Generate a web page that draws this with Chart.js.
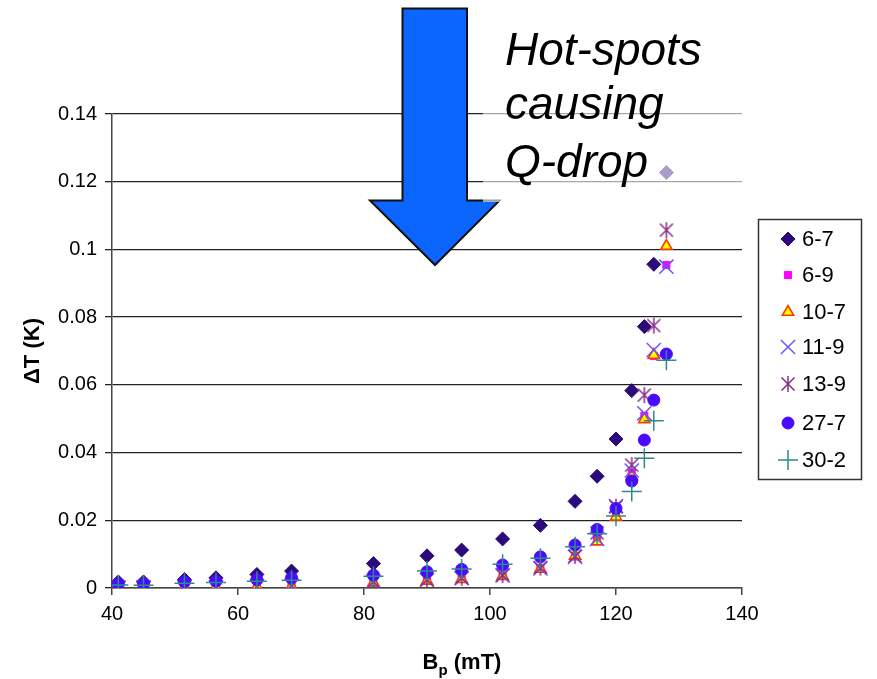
<!DOCTYPE html>
<html>
<head>
<meta charset="utf-8">
<script src="https://cdn.jsdelivr.net/npm/chart.js@4.4.1/dist/chart.umd.min.js"></script>
<style>
html,body{margin:0;padding:0;background:#fff;}
#wrap{width:877px;height:679px;position:relative;}
</style>
</head>
<body>
<div id="wrap"><canvas id="c" width="877" height="679"></canvas></div>
<script>
// ---- data ----
const bField = [41, 45, 51.5, 56.5, 63, 68.5, 81.5, 90, 95.5, 102, 108, 113.5, 117, 120, 122.5, 124.5, 126, 128];
const seriesNames = ['6-7', '6-9', '10-7', '11-9', '13-9', '27-7', '30-2'];
const s6_7  = [0.0018,0.0018,0.0025,0.0030,0.0040,0.0050,0.0072,0.0095,0.0112,0.0145,0.0185,0.0256,0.0330,0.0440,0.0583,0.0772,0.0956,0.1227];
const s6_9  = [0.0002,0.0002,0.0002,0.0003,0.0004,0.0006,0.0017,0.0022,0.0027,0.0036,0.0057,0.0093,0.0145,0.0220,0.0340,0.0508,0.0685,0.0954];
const s10_7 = [0.0001,0.0001,0.0002,0.0003,0.0004,0.0005,0.0016,0.0021,0.0026,0.0035,0.0056,0.0095,0.0137,0.0210,0.0330,0.0498,0.0688,0.1010];
const s11_9 = [0.0002,0.0002,0.0003,0.0003,0.0005,0.0007,0.0019,0.0024,0.0029,0.0037,0.0058,0.0092,0.0145,0.0242,0.0347,0.0516,0.0703,0.0949];
const s13_9 = [0.0002,0.0002,0.0003,0.0003,0.0005,0.0007,0.0019,0.0024,0.0030,0.0038,0.0060,0.0095,0.0163,0.0240,0.0363,0.0570,0.0775,0.1057];
const s27_7 = [0.0012,0.0012,0.0018,0.0020,0.0025,0.0030,0.0038,0.0048,0.0055,0.0068,0.0092,0.0127,0.0173,0.0235,0.0316,0.0437,0.0555,0.0691];
const s30_2 = [0.0009,0.0008,0.0014,0.0016,0.0020,0.0023,0.0035,0.0050,0.0056,0.0070,0.0088,0.0122,0.0160,0.0213,0.0285,0.0383,0.0494,0.0673];
const yTickLabels = ['0', '0.02', '0.04', '0.06', '0.08', '0.1', '0.12', '0.14'];
const xTickLabels = ['40', '60', '80', '100', '120', '140'];
const yTitle = 'ΔT (K)';
const xTitleMain = 'B', xTitleSub = 'p', xTitleRest = ' (mT)';
const noteLines = ['Hot-spots', 'causing', 'Q-drop'];

// ---- styles ----
function asteriskImage(color) {
  const c = document.createElement('canvas');
  c.width = 18; c.height = 18;
  const g = c.getContext('2d');
  g.strokeStyle = color; g.lineWidth = 1.5;
  g.beginPath();
  g.moveTo(9, 1); g.lineTo(9, 17);
  g.moveTo(2.5, 2.5); g.lineTo(15.5, 15.5);
  g.moveTo(15.5, 2.5); g.lineTo(2.5, 15.5);
  g.stroke();
  return c;
}
const styles = [
  {pointStyle:'rectRot',  radius:7,   bg:'#2b0a7a', border:'#2b0a7a', bw:1},
  {pointStyle:'rect',     radius:5,   bg:'#ff00ff', border:'#ff00ff', bw:1},
  {pointStyle:'triangle', radius:6.5, bg:'#ffff00', border:'#ff3a00', bw:1.6},
  {pointStyle:'crossRot', radius:10,  bg:'#6658ff', border:'#6658ff', bw:1.5},
  {pointStyle:asteriskImage('#8a2c8a'), radius:9, bg:'#8a2c8a', border:'#8a2c8a', bw:1.5},
  {pointStyle:'circle',   radius:6,   bg:'#4a0aff', border:'#4a0aff', bw:1},
  {pointStyle:'cross',    radius:10,  bg:'#2e8a8a', border:'#2e8a8a', bw:1.5}
];
const values = [s6_7, s6_9, s10_7, s11_9, s13_9, s27_7, s30_2];

const datasets = seriesNames.map((name, i) => ({
  label: name,
  data: bField.map((b, j) => ({x: b, y: values[i][j]})),
  pointStyle: styles[i].pointStyle,
  pointRadius: styles[i].radius,
  pointHoverRadius: styles[i].radius,
  backgroundColor: styles[i].bg,
  borderColor: styles[i].border,
  pointBorderWidth: styles[i].bw,
  borderWidth: styles[i].bw,
  showLine: false,
  order: seriesNames.length - 1 - i
}));

const overlay = {
  id: 'overlay',
  afterDraw(chart) {
    const ctx = chart.ctx;
    // arrow
    ctx.save();
    ctx.beginPath();
    ctx.moveTo(402.5, 8.5);
    ctx.lineTo(467, 8.5);
    ctx.lineTo(467, 200.5);
    ctx.lineTo(499.5, 200.5);
    ctx.lineTo(435, 265);
    ctx.lineTo(370, 200.5);
    ctx.lineTo(402.5, 200.5);
    ctx.closePath();
    ctx.fillStyle = '#0a66ff';
    ctx.fill();
    ctx.lineWidth = 2;
    ctx.strokeStyle = '#111';
    ctx.stroke();
    ctx.restore();
    // semi-transparent text box
    ctx.save();
    ctx.fillStyle = 'rgba(255,255,255,0.6)';
    ctx.fillRect(483, 0, 270, 202);
    ctx.fillStyle = '#000';
    ctx.font = 'italic 46px "Liberation Sans", Arial, sans-serif';
    ctx.textBaseline = 'alphabetic';
    ctx.textAlign = 'left';
    const bases = [65, 119, 177];
    noteLines.forEach((t, k) => ctx.fillText(t, 505, bases[k]));
    ctx.restore();
    // legend
    ctx.save();
    ctx.strokeStyle = '#333';
    ctx.lineWidth = 1.5;
    ctx.strokeRect(758.5, 219.5, 103, 260);
    ctx.font = '22px "Liberation Sans", Arial, sans-serif';
    ctx.textBaseline = 'middle';
    ctx.textAlign = 'left';
    const rows = [239, 275, 312, 347, 384, 423, 460];
    seriesNames.forEach((name, i) => {
      const st = styles[i];
      ctx.fillStyle = st.bg;
      ctx.strokeStyle = st.border;
      ctx.lineWidth = st.bw;
      Chart.helpers.drawPoint(ctx, {pointStyle: st.pointStyle, radius: st.radius, rotation: 0, borderWidth: st.bw}, 788, rows[i]);
      ctx.fillStyle = '#000';
      ctx.fillText(name, 802, rows[i] + 1);
    });
    ctx.restore();
    // x axis title with subscript
    ctx.save();
    ctx.fillStyle = '#000';
    ctx.textBaseline = 'alphabetic';
    ctx.textAlign = 'left';
    const fMain = 'bold 22px "Liberation Sans", Arial, sans-serif';
    const fSub = 'bold 15px "Liberation Sans", Arial, sans-serif';
    ctx.font = fMain; const wB = ctx.measureText(xTitleMain).width; const wR = ctx.measureText(xTitleRest).width;
    ctx.font = fSub; const wP = ctx.measureText(xTitleSub).width;
    const total = wB + wP + wR;
    let x0 = 462 - total / 2;
    const base = 669;
    ctx.font = fMain; ctx.fillText(xTitleMain, x0, base);
    ctx.font = fSub; ctx.fillText(xTitleSub, x0 + wB, base + 6);
    ctx.font = fMain; ctx.fillText(xTitleRest, x0 + wB + wP, base);
    ctx.restore();
  }
};

new Chart(document.getElementById('c'), {
  type: 'scatter',
  data: { datasets },
  options: {
    responsive: false,
    animation: false,
    layout: { padding: { top: 114, right: 135, bottom: 0, left: 0 } },
    plugins: { legend: { display: false }, tooltip: { enabled: false } },
    scales: {
      x: {
        type: 'linear', min: 40, max: 140,
        afterFit(s) { s.height = 91; },
        afterBuildTicks(s) { s.ticks = xTickLabels.map(v => ({value: +v})); },
        ticks: { stepSize: 20, color: '#000', padding: 7,
          font: { size: 20, family: '"Liberation Sans", Arial, sans-serif' },
          callback: (v, i) => xTickLabels[i] },
        grid: { drawOnChartArea: false, tickLength: 7, color: '#444', lineWidth: 1.5 },
        border: { display: true, color: '#444', width: 1.5 }
      },
      y: {
        type: 'linear', min: 0, max: 0.14,
        afterFit(s) { s.width = 112; },
        afterBuildTicks(s) { s.ticks = yTickLabels.map(v => ({value: +v})); },
        ticks: { stepSize: 0.02, color: '#000', padding: 8,
          font: { size: 20, family: '"Liberation Sans", Arial, sans-serif' },
          callback: (v, i) => yTickLabels[i] },
        grid: { color: '#222', lineWidth: 1.3, tickLength: 7 },
        border: { display: true, color: '#444', width: 1.5 },
        title: { display: true, text: yTitle, color: '#000', padding: { top: 20, bottom: 0 },
          font: { size: 22, weight: 'bold', family: '"Liberation Sans", Arial, sans-serif' } }
      }
    }
  },
  plugins: [overlay]
});
</script>
</body>
</html>
